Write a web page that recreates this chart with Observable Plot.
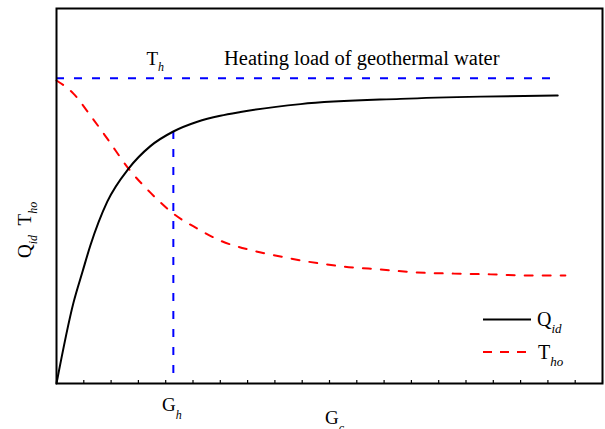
<!DOCTYPE html>
<html>
<head>
<meta charset="utf-8">
<script src="https://cdn.jsdelivr.net/npm/d3@7"></script>
<script src="https://cdn.jsdelivr.net/npm/@observablehq/plot@0.6"></script>
<style>
  html, body { margin: 0; padding: 0; background: #fff; }
  #chart svg { display: block; }
</style>
</head>
<body>
<div id="chart"></div>
<script>
// Abstract (unitless) horizontal axis G_c and vertical axis Q_id / T_ho, 0..100
const qX = [0, 3.1, 4.8, 6.2, 9.3, 13.2, 17.2, 21.4, 25.8, 30.0, 33.7, 44.7, 63.0, 77.7, 91.8];
const qY = [0, 21.5, 30.0, 36.8, 48.5, 57.3, 63.3, 67.2, 69.8, 71.4, 72.4, 74.5, 75.9, 76.5, 76.8];

const tX = [0, 3.1, 6.2, 9.3, 13.2, 17.2, 21.4, 25.8, 30.0, 35.2, 39.2, 46.0, 52.6, 59.3, 66.1, 72.7, 79.5, 86.3, 93.2];
const tY = [80.8, 77.3, 71.5, 65.3, 57.3, 50.9, 45.3, 41.3, 38.1, 35.7, 34.4, 32.5, 31.2, 30.4, 29.6, 29.3, 29.1, 28.8, 28.8];

const thLevel = [81.4];      // T_h : heating load of geothermal water
const thEnd = 91.6;
const ghValue = [21.4];      // G_h
const ghBottom = 2.7;
const ghTop = 67.2;

const xTicks = d3.range(0, 101, 5);

const qData = qX.map((x, i) => ({x, y: qY[i]}));
const tData = tX.map((x, i) => ({x, y: tY[i]}));

const BLUE = "#0000ff", RED = "#ff0000";
const FONT = "'Liberation Serif', 'Times New Roman', serif";

const chart = Plot.plot({
  width: 605,
  height: 429,
  marginLeft: 56,
  marginRight: 3,
  marginTop: 8,
  marginBottom: 46,
  style: {background: "#fff", fontFamily: FONT, overflow: "visible"},
  x: {domain: [0, 100], axis: null},
  y: {domain: [0, 100], axis: null},
  marks: [
    Plot.ruleY(thLevel, {x1: 0, x2: thEnd, stroke: BLUE, strokeWidth: 2, strokeDasharray: "8,10"}),
    Plot.ruleX(ghValue, {y1: ghBottom, y2: ghTop, stroke: BLUE, strokeWidth: 2, strokeDasharray: "8,10"}),
    Plot.line(tData, {x: "x", y: "y", stroke: RED, strokeWidth: 2, strokeDasharray: "8,10", curve: "monotone-x"}),
    Plot.line(qData, {x: "x", y: "y", stroke: "black", strokeWidth: 2, curve: "monotone-x"}),
    Plot.axisX({ticks: xTicks, tickSize: 3, dy: -3, tickFormat: () => "", label: null, stroke: "black", strokeWidth: 1.2}),
    Plot.frame({stroke: "black", strokeWidth: 2})
  ]
});

document.getElementById("chart").appendChild(chart);

const svg = d3.select(chart);
const sx = chart.scale("x"), sy = chart.scale("y");

function rich(parent, parts, attrs) {
  const t = parent.append("text")
    .attr("font-family", FONT)
    .attr("fill", "black")
    .attr("text-anchor", "start");
  for (const [k, v] of Object.entries(attrs)) t.attr(k, v);
  let shift = 0;
  for (const p of parts) {
    const dy = (p.dy || 0) - shift;
    shift = p.dy || 0;
    t.append("tspan")
      .attr("dy", dy)
      .attr("font-size", p.size)
      .attr("font-style", p.italic ? "italic" : "normal")
      .text(p.t);
  }
  return t;
}

// T_h label and annotation
rich(svg, [{t: "T", size: 19}, {t: "h", size: 12, italic: true, dy: 6}], {x: 146.5, y: 65});
rich(svg, [{t: "Heating load of geothermal water", size: 20.5}], {x: 224, y: 65});

// G_h under the vertical line
rich(svg, [{t: "G", size: 19}, {t: "h", size: 12, italic: true, dy: 8}], {x: sx.apply(ghValue[0]) - 1, y: 411, "text-anchor": "middle"});

// x-axis title G_c (its subscript runs off the bottom edge, as in the reference)
rich(svg, [{t: "G", size: 19}, {t: "c", size: 12, italic: true, dy: 8}], {x: 325, y: 424});

// y-axis title
const yl = svg.append("g").attr("transform", "translate(31,258) rotate(-90)");
rich(yl, [
  {t: "Q", size: 19},
  {t: "id", size: 12, italic: true, dy: 6},
  {t: "\u00a0\u00a0T", size: 19},
  {t: "ho", size: 12, italic: true, dy: 6}
], {x: 0, y: 0});

// Legend
const lg = svg.append("g");
lg.append("line").attr("x1", 483).attr("x2", 531).attr("y1", 319.5).attr("y2", 319.5)
  .attr("stroke", "black").attr("stroke-width", 2);
lg.append("line").attr("x1", 483).attr("x2", 531).attr("y1", 352).attr("y2", 352)
  .attr("stroke", RED).attr("stroke-width", 2).attr("stroke-dasharray", "9,8");
rich(lg, [{t: "Q", size: 20}, {t: "id", size: 13, italic: true, dy: 7}], {x: 537, y: 326});
rich(lg, [{t: "T", size: 20}, {t: "ho", size: 13, italic: true, dy: 7}], {x: 538, y: 359});
</script>
</body>
</html>
